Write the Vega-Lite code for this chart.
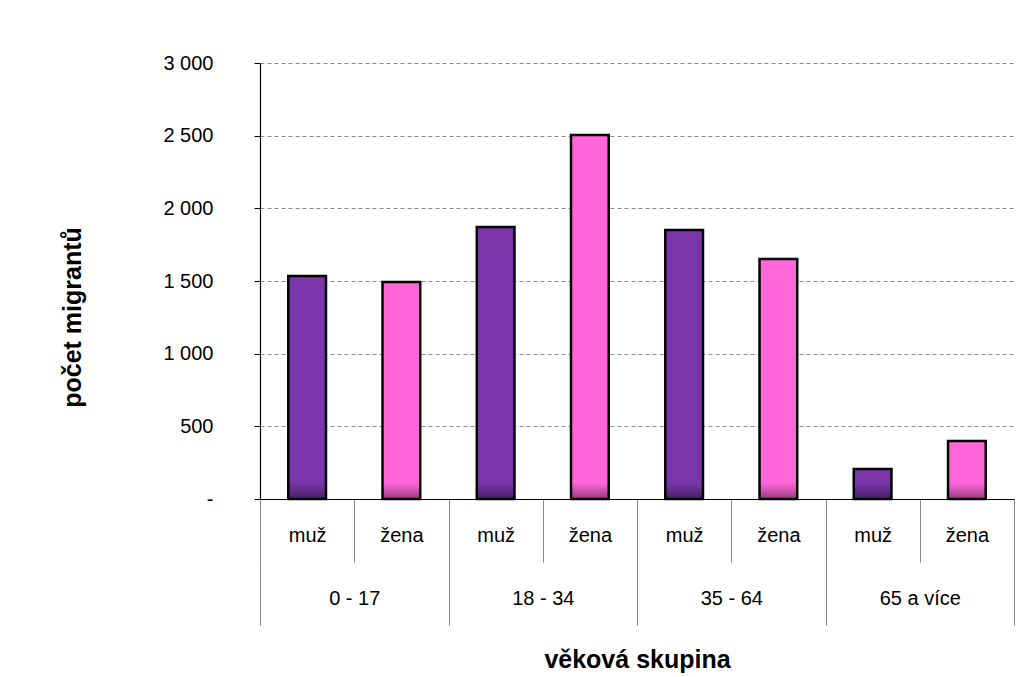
{
  "$schema": "https://vega.github.io/schema/vega-lite/v6.json",
  "width": 754,
  "height": 436,
  "autosize": {"type": "none"},
  "padding": {"left": 260, "top": 63, "right": 22, "bottom": 178},
  "background": "white",
  "config": {
    "view": {"stroke": null},
    "font": "Liberation Sans",
    "axis": {"labelFont": "Liberation Sans", "titleFont": "Liberation Sans", "labelColor": "#000", "titleColor": "#000"}
  },
  "data": {
    "values": [
      {"group": "0 - 17", "sex": "muž", "slot": "0 - 17|muž", "value": 1534},
      {"group": "0 - 17", "sex": "žena", "slot": "0 - 17|žena", "value": 1493},
      {"group": "18 - 34", "sex": "muž", "slot": "18 - 34|muž", "value": 1872},
      {"group": "18 - 34", "sex": "žena", "slot": "18 - 34|žena", "value": 2505},
      {"group": "35 - 64", "sex": "muž", "slot": "35 - 64|muž", "value": 1851},
      {"group": "35 - 64", "sex": "žena", "slot": "35 - 64|žena", "value": 1651},
      {"group": "65 a více", "sex": "muž", "slot": "65 a více|muž", "value": 206},
      {"group": "65 a více", "sex": "žena", "slot": "65 a více|žena", "value": 399}
    ]
  },
  "layer": [
    {
      "layer": [
        {
          "mark": {"type": "bar", "width": {"band": 0.4}},
          "encoding": {
            "x": {
              "field": "slot", "type": "nominal", "sort": null,
              "scale": {"paddingInner": 0, "paddingOuter": 0},
              "axis": {
                "orient": "bottom", "title": null,
                "labelExpr": "split(datum.label, '|')[1]",
                "labelAngle": 0, "labelFontSize": 20, "labelPadding": -27, "labelBaseline": "middle",
                "tickBand": "extent", "tickSize": 63, "tickColor": "#888", "tickWidth": 1,
                "domainColor": "#000", "domainWidth": 1.2
              }
            },
            "y": {
              "field": "value", "type": "quantitative",
              "scale": {"domain": [0, 3000]},
              "axis": {
                "title": "počet migrantů", "titleFontSize": 25, "titleFontWeight": "bold",
                "titleX": -188, "titleY": 254, "titleAngle": -90, "titleBaseline": "middle", "titleAlign": "center",
                "values": [0, 500, 1000, 1500, 2000, 2500, 3000],
                "labelExpr": "datum.value == 0 ? '-\u00a0\u00a0\u00a0' : replace(format(datum.value, ','), ',', ' ')",
                "labelFontSize": 20, "labelPadding": 41,
                "tickSize": 6, "tickColor": "#000",
                "domainColor": "#000", "domainWidth": 1.2,
                "grid": true, "gridDash": [4, 3], "gridColor": "#8c8c8c", "gridWidth": 1
              }
            },
            "color": {
              "field": "sex", "type": "nominal",
              "scale": {"domain": ["muž", "žena"], "range": ["#7a36a8", "#ff66d8"]},
              "legend": null
            }
          }
        },
        {
          "mark": {
            "type": "bar", "width": {"band": 0.4},
            "color": {"gradient": "linear", "x1": 0, "y1": 0, "x2": 0, "y2": 1,
              "stops": [{"offset": 0, "color": "rgba(0,0,0,0)"}, {"offset": 1, "color": "rgba(0,0,0,0.42)"}]}
          },
          "encoding": {
            "x": {"field": "slot", "type": "nominal", "sort": null},
            "y": {"datum": 0, "type": "quantitative"},
            "y2": {"datum": 110}
          }
        },
        {
          "mark": {"type": "bar", "width": {"band": 0.4}, "fill": null, "fillOpacity": 0, "stroke": "#000", "strokeWidth": 2.5},
          "encoding": {
            "x": {"field": "slot", "type": "nominal", "sort": null},
            "y": {"field": "value", "type": "quantitative"}
          }
        }
      ]
    },
    {
      "mark": {"type": "bar", "opacity": 0},
      "encoding": {
        "x": {
          "field": "group", "type": "nominal", "sort": null,
          "scale": {"paddingInner": 0, "paddingOuter": 0},
          "axis": {
            "orient": "bottom", "offset": 63,
            "labelAngle": 0, "labelFontSize": 20, "labelPadding": -27, "labelBaseline": "middle",
            "tickBand": "extent", "tickSize": 63, "tickColor": "#888", "tickWidth": 1,
            "domain": false,
            "title": "věková skupina", "titleFontSize": 25, "titleFontWeight": "bold",
            "titleY": 97, "titleBaseline": "middle"
          }
        },
        "y": {"field": "value", "type": "quantitative"}
      }
    }
  ],
  "resolve": {"scale": {"x": "independent"}}
}
